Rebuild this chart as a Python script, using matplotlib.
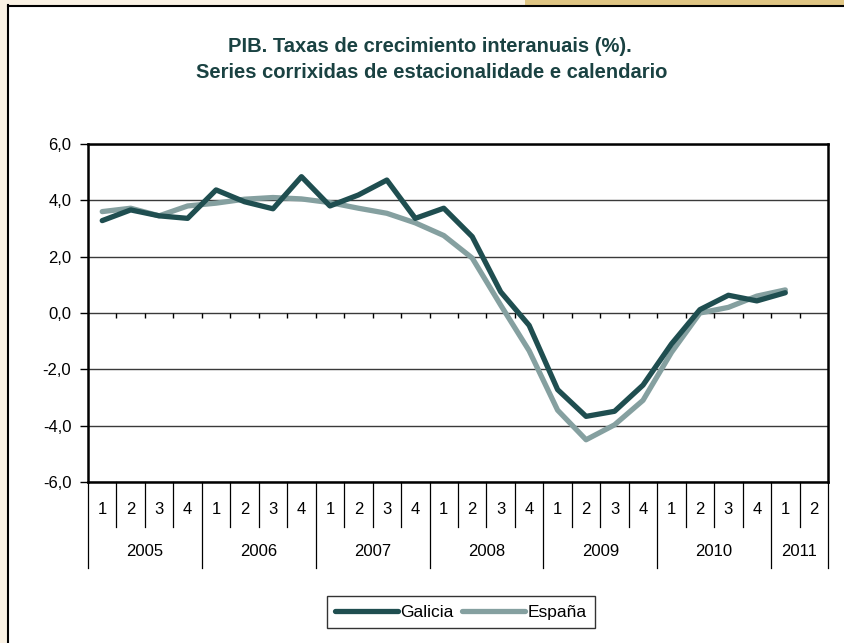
import matplotlib
matplotlib.use("Agg")
import matplotlib.pyplot as plt
import matplotlib.transforms as mtransforms
from matplotlib.patches import Rectangle
from matplotlib.lines import Line2D
from matplotlib.ticker import FuncFormatter

plt.rcParams['font.family'] = ['Liberation Sans', 'DejaVu Sans']

# quarters 2005Q1 .. 2011Q2
years = ["2005", "2006", "2007", "2008", "2009", "2010", "2011"]
quarters_per_year = [4, 4, 4, 4, 4, 4, 2]
galicia = [3.28, 3.66, 3.45, 3.36, 4.37, 3.95, 3.70, 4.84,
           3.80, 4.19, 4.72, 3.36, 3.72, 2.71, 0.75, -0.44,
           -2.72, -3.67, -3.49, -2.56, -1.10, 0.12, 0.63, 0.43,
           0.72]
espana = [3.60, 3.72, 3.45, 3.80, 3.90, 4.04, 4.10, 4.05,
          3.92, 3.72, 3.54, 3.20, 2.75, 1.95, 0.28, -1.34,
          -3.45, -4.50, -3.97, -3.10, -1.40, 0.00, 0.20, 0.60,
          0.82]

W, H = 845, 643
fig = plt.figure(figsize=(W / 100, H / 100), dpi=100)
fig.patch.set_facecolor('white')

# page decoration around the white panel
cream = '#FAF2E4'
fig.patches.append(Rectangle((0, 0), 8 / W, 1, transform=fig.transFigure, facecolor=cream, edgecolor='none'))
fig.patches.append(Rectangle((0, 1 - 5 / H), 525 / W, 5 / H, transform=fig.transFigure, facecolor=cream, edgecolor='none'))
fig.patches.append(Rectangle((525 / W, 1 - 5 / H), 1 - 525 / W, 5 / H, transform=fig.transFigure, facecolor='#DFC583', edgecolor='none'))
fig.lines.append(Line2D([8.5 / W, 8.5 / W], [0, 1 - 5 / H], transform=fig.transFigure, color='black', lw=1.5))
fig.lines.append(Line2D([8.5 / W, 1], [1 - 5.5 / H, 1 - 5.5 / H], transform=fig.transFigure, color='black', lw=1.5))

title_color = '#1A4242'
fig.text(430 / W, 1 - 46 / H, "PIB. Taxas de crecimiento interanuais (%).", ha='center', va='center',
         fontsize=14.5, fontweight='bold', color=title_color)
fig.text(432 / W, 1 - 73 / H, "Series corrixidas de estacionalidade e calendario", ha='center', va='center',
         fontsize=14.5, fontweight='bold', color=title_color)

left, right, top, bottom = 88, 828, 144, 482
ax = fig.add_axes([left / W, 1 - bottom / H, (right - left) / W, (bottom - top) / H])

n = sum(quarters_per_year)
x = list(range(len(galicia)))

ax.plot(x, espana, color='#85A0A0', lw=3.8, solid_capstyle='round', label='España', zorder=3)
ax.plot(x, galicia, color='#1F4E50', lw=3.8, solid_capstyle='round', label='Galicia', zorder=4)

ax.set_xlim(-0.5, n - 0.5)
ax.set_ylim(-6, 6)
ax.set_yticks(range(-6, 7, 2))
ax.yaxis.set_major_formatter(FuncFormatter(lambda v, p: f"{v:.1f}".replace('.', ',')))
ax.tick_params(axis='y', direction='out', length=6, width=1, labelsize=12, pad=6)
ax.set_xticks([])
ax.yaxis.grid(True, color='#3a3a3a', lw=1)
ax.set_axisbelow(True)
for s in ax.spines.values():
    s.set_color('black')
    s.set_linewidth(1.8)

# small ticks on the zero line
bounds = [k - 0.5 for k in range(n + 1)]
ax.vlines(bounds[1:-1], -0.18, 0, color='black', lw=1, zorder=2)

# category table under the plot
tr = mtransforms.blended_transform_factory(ax.transData, fig.transFigure)
y_axis = 1 - bottom / H
y_q_end = 1 - 527 / H
y_y_end = 1 - 568 / H
y_q_lab = 1 - 509 / H
y_y_lab = 1 - 552 / H

year_starts = []
pos = 0
for yr, nq in zip(years, quarters_per_year):
    year_starts.append(pos)
    for q in range(nq):
        ax.text(pos + q, y_q_lab, str(q + 1), transform=tr, ha='center', va='center', fontsize=12)
    ax.text(pos + (nq - 1) / 2, y_y_lab, yr, transform=tr, ha='center', va='center', fontsize=12)
    pos += nq

for b in range(n + 1):
    if b in year_starts or b == n:
        y_end = y_y_end
    else:
        y_end = y_q_end
    ax.add_line(Line2D([b - 0.5, b - 0.5], [y_axis, y_end], transform=tr, color='black', lw=0.9, clip_on=False))

handles = [Line2D([], [], color='#1F4E50', lw=3.8, solid_capstyle='round'),
           Line2D([], [], color='#85A0A0', lw=3.8, solid_capstyle='round')]
leg = fig.legend(handles, ['Galicia', 'España'], loc='center', bbox_to_anchor=(461 / W, 1 - 612 / H),
                 ncol=2, frameon=True, fancybox=False, fontsize=12.5, handlelength=3.6,
                 handletextpad=0.15, columnspacing=0.5, borderpad=0.5, borderaxespad=0)
leg.get_frame().set_edgecolor('black')
leg.get_frame().set_linewidth(1)

fig.savefig('out.png', dpi=100, facecolor=fig.get_facecolor())
